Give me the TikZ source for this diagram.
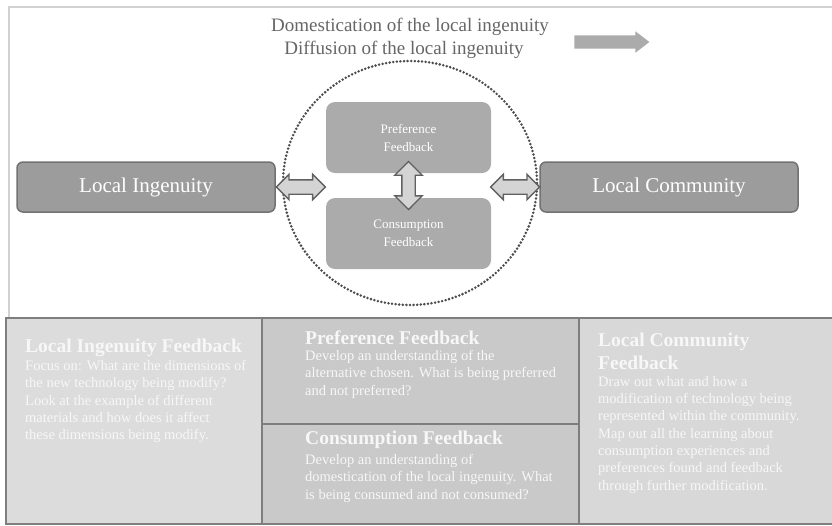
\documentclass[tikz,border=0pt]{standalone}
\usepackage{fontspec}
\setmainfont{Liberation Serif}
\usetikzlibrary{shapes.arrows,shapes.geometric,calc}
\definecolor{framegray}{HTML}{D2D2D2}
\definecolor{gridgray}{HTML}{7E7E7E}
\definecolor{sidebox}{HTML}{9C9C9C}
\definecolor{sideborder}{HTML}{727272}
\definecolor{innerbox}{HTML}{ABABAB}
\definecolor{arrowfill}{HTML}{D4D4D4}
\definecolor{arrowline}{HTML}{606060}
\definecolor{dotgray}{HTML}{4C4C4C}
\definecolor{titlegray}{HTML}{666666}
\definecolor{cellA}{HTML}{DCDCDC}
\definecolor{cellB}{HTML}{C9C9C9}
\definecolor{cellD}{HTML}{D8D8D8}
\definecolor{celltext}{HTML}{F7F7F7}
\tikzset{
  sidenode/.style={draw=sideborder, line width=1.5pt, fill=sidebox, rounded corners=6pt,
    minimum width=258pt, minimum height=50pt, inner sep=0pt,
    text=white, font=\fontsize{21}{24}\selectfont},
  innernode/.style={fill=innerbox, rounded corners=9pt, minimum width=165pt, minimum height=71pt,
    inner sep=0pt, text=white, align=center, font=\fontsize{13}{18}\selectfont},
  dblarrow/.style={double arrow, draw=arrowline, fill=arrowfill, line width=1.4pt,
    inner sep=0pt, double arrow head extend=5.5pt},
  cellbox/.style={draw=gridgray, line width=2pt},
  cellhead/.style={anchor=west, inner sep=0pt, text=celltext, align=left,
    font=\bfseries\fontsize{19.5}{22}\selectfont},
  cellbody/.style={anchor=north west, inner sep=0pt, text=celltext, align=left,
    font=\fontsize{14.5}{17.3}\selectfont},
  titletext/.style={text=titlegray, inner sep=0pt, font=\fontsize{19}{22}\selectfont}
}
\begin{document}
\begin{tikzpicture}[x=1pt,y=-1pt]
\useasboundingbox (0,0) rectangle (832,525);
\fill[white] (0,0) rectangle (832,525);
% top frame
\draw[framegray, line width=2pt] (9,318) -- (9,7) -- (832,7);
% titles
\node[titletext] (t1) at (410,27) {Domestication of the local ingenuity};
\node[titletext] (t2) at (404,50) {Diffusion of the local ingenuity};
\node[single arrow, fill=innerbox, inner sep=0pt, minimum height=75pt,
  single arrow head extend=4pt, single arrow tip angle=75] (tarrow) at (607.5,42) {\rule{0pt}{13pt}};
% dotted circle
\node[ellipse, draw=dotgray, line width=2.8pt, dash pattern=on 0pt off 3.6pt, line cap=round,
  minimum width=254pt, minimum height=244pt, inner sep=0pt] (circ) at (410,183) {};
% boxes
\node[sidenode] (li) at (146,187) {Local Ingenuity};
\node[sidenode] (lc) at (669,187) {Local Community};
\node[innernode] (pf) at (408.5,137.5) {Preference\\Feedback};
\node[innernode] (cf) at (408.5,233.5) {Consumption\\Feedback};
% double arrows
\node[dblarrow, minimum height=49pt] (a1) at ($(li.east)!0.5!(pf.west |- li.east)$) {\rule{0pt}{13pt}};
\node[dblarrow, minimum height=49pt] (a2) at ($(lc.west)!0.5!(pf.east |- lc.west)$) {\rule{0pt}{13pt}};
\node[dblarrow, minimum height=48pt, double arrow head extend=7pt, rotate=90] (a3)
  at ($(pf.south)!0.5!(cf.north)$) {\rule{0pt}{12pt}};
% table
\fill[cellA] (6,318) rectangle (262,525);
\fill[cellB] (262,318) rectangle (579,525);
\fill[cellD] (579,318) rectangle (832,525);
\draw[cellbox] (6,318) rectangle (262,524);
\draw[cellbox] (262,318) rectangle (579,424);
\draw[cellbox] (262,424) rectangle (579,524);
\draw[cellbox] (579,318) rectangle (833,524);
% cell texts
\node[cellhead] (h1) at (25,348) {Local Ingenuity Feedback};
\node[cellbody] (b1) at (25,360) {Focus on: What are the dimensions of\\the new technology being modify?\\Look at the example of different\\materials and how does it affect\\these dimensions being modify.};
\node[cellhead] (h2) at (305,338) {Preference Feedback};
\node[cellbody] (b2) at (305,350) {Develop an understanding of the\\alternative chosen. What is being preferred\\and not preferred?};
\node[cellhead] (h3) at (305,440) {Consumption Feedback};
\node[cellbody] (b3) at (305,454) {Develop an understanding of\\domestication of the local ingenuity. What\\is being consumed and not consumed?};
\node[cellhead, font=\bfseries\fontsize{19.5}{23}\selectfont] (h4) at (598,351) {Local Community\\Feedback};
\node[cellbody] (b4) at (598,376) {Draw out what and how a\\modification of technology being\\represented within the community.\\Map out all the learning about\\consumption experiences and\\preferences found and feedback\\through further modification.};
\end{tikzpicture}
\end{document}
